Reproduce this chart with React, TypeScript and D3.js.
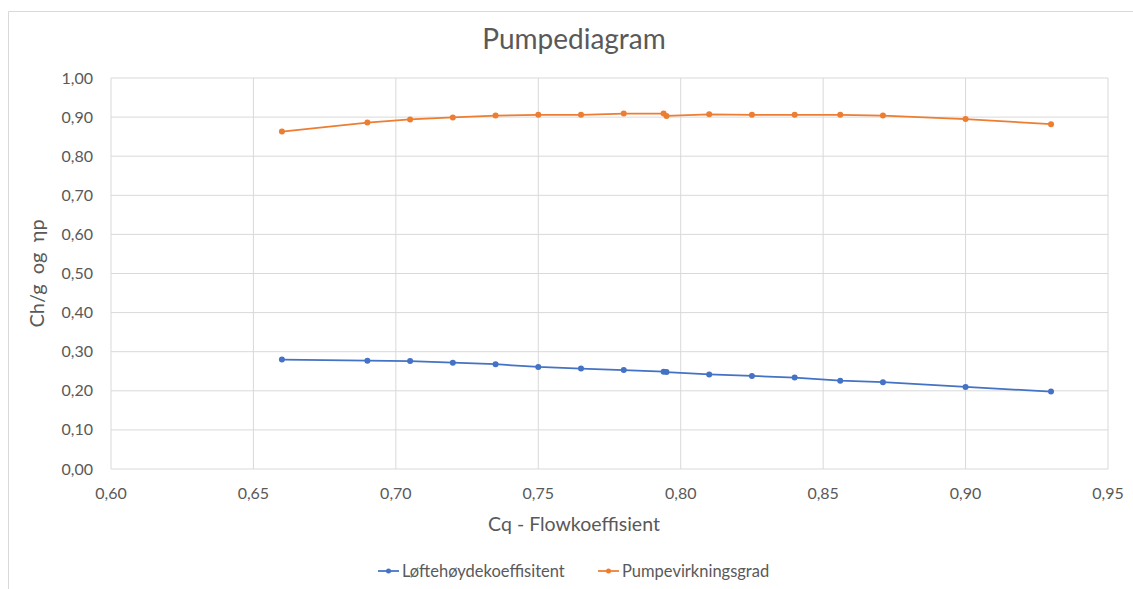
import * as d3 from 'd3';

// Cq values (x) and the two measured series
const cq = [0.66, 0.69, 0.705, 0.72, 0.735, 0.75, 0.765, 0.78, 0.794, 0.795, 0.81, 0.825, 0.84, 0.856, 0.871, 0.9, 0.93];
const lofteh = [0.28, 0.277, 0.276, 0.272, 0.268, 0.261, 0.257, 0.253, 0.249, 0.248, 0.242, 0.238, 0.234, 0.226, 0.222, 0.21, 0.198];
const pumpev = [0.863, 0.886, 0.894, 0.899, 0.904, 0.906, 0.906, 0.909, 0.909, 0.903, 0.907, 0.906, 0.906, 0.906, 0.904, 0.895, 0.882];

const xTicks = [0.6, 0.65, 0.7, 0.75, 0.8, 0.85, 0.9, 0.95];
const yTicks = [0, 0.1, 0.2, 0.3, 0.4, 0.5, 0.6, 0.7, 0.8, 0.9, 1.0];

const series = [
  { name: 'Løftehøydekoeffisitent', values: lofteh, color: '#4472c4' },
  { name: 'Pumpevirkningsgrad', values: pumpev, color: '#ed7d31' },
];

const W = 1133;
const H = 589;
const FONT = 'Lato, "Open Sans", sans-serif';
const TEXT = '#595959';
const GRID = '#d9d9d9';

const fmt = (v: number, d: number) => v.toFixed(d).replace('.', ',');

export default function App() {
  const x = d3.scaleLinear().domain([0.6, 0.95]).range([111, 1108]);
  const y = d3.scaleLinear().domain([0, 1]).range([469, 78]);

  const line = d3
    .line<number>()
    .x((_, i) => x(cq[i]))
    .y((d) => y(d));

  return (
    <svg width={W} height={H} style={{ position: 'absolute', left: 0, top: 0 }} fontFamily={FONT}>
      <rect x={0} y={0} width={W} height={H} fill="#fff" />
      {/* chart border */}
      <path d={`M8.5,${H} V11.5 H${W}`} fill="none" stroke={GRID} strokeWidth={1} />

      <text x={574} y={49} textAnchor="middle" fontSize={28} fill={TEXT}>
        Pumpediagram
      </text>

      {/* gridlines */}
      {yTicks.map((t) => (
        <line key={'gy' + t} x1={x(0.6)} x2={x(0.95)} y1={y(t)} y2={y(t)} stroke={GRID} strokeWidth={1} />
      ))}
      {xTicks.map((t) => (
        <line key={'gx' + t} x1={x(t)} x2={x(t)} y1={y(0)} y2={y(1)} stroke={GRID} strokeWidth={1} />
      ))}

      {/* tick labels */}
      {yTicks.map((t) => (
        <text key={'ly' + t} x={93} y={y(t) + 5.5} textAnchor="end" fontSize={16} fill={TEXT}>
          {fmt(t, 2)}
        </text>
      ))}
      {xTicks.map((t) => (
        <text key={'lx' + t} x={x(t)} y={499} textAnchor="middle" fontSize={16} fill={TEXT}>
          {fmt(t, 2)}
        </text>
      ))}

      {/* axis titles */}
      <text x={574} y={531} textAnchor="middle" fontSize={19.5} fill={TEXT}>
        Cq - Flowkoeffisient
      </text>
      <text
        transform={`translate(44, ${(y(0) + y(1)) / 2}) rotate(-90)`}
        textAnchor="middle"
        fontSize={20}
        fill={TEXT}
        style={{ whiteSpace: 'pre' }}
      >
        {'Ch/g  og  ηp'}
      </text>

      {/* series */}
      {series.map((s) => (
        <g key={s.name}>
          <path d={line(s.values) || ''} fill="none" stroke={s.color} strokeWidth={1.75} />
          {s.values.map((v, i) => (
            <circle key={i} cx={x(cq[i])} cy={y(v)} r={3} fill={s.color} />
          ))}
        </g>
      ))}

      {/* legend */}
      {series.map((s, i) => {
        const lx = i === 0 ? 378 : 598;
        return (
          <g key={'lg' + s.name} transform={`translate(${lx}, 571)`}>
            <line x1={0} x2={21} y1={0} y2={0} stroke={s.color} strokeWidth={1.75} />
            <circle cx={10.5} cy={0} r={2.5} fill={s.color} />
            <text x={24} y={5.5} fontSize={16.5} fill={TEXT}>
              {s.name}
            </text>
          </g>
        );
      })}
    </svg>
  );
}
